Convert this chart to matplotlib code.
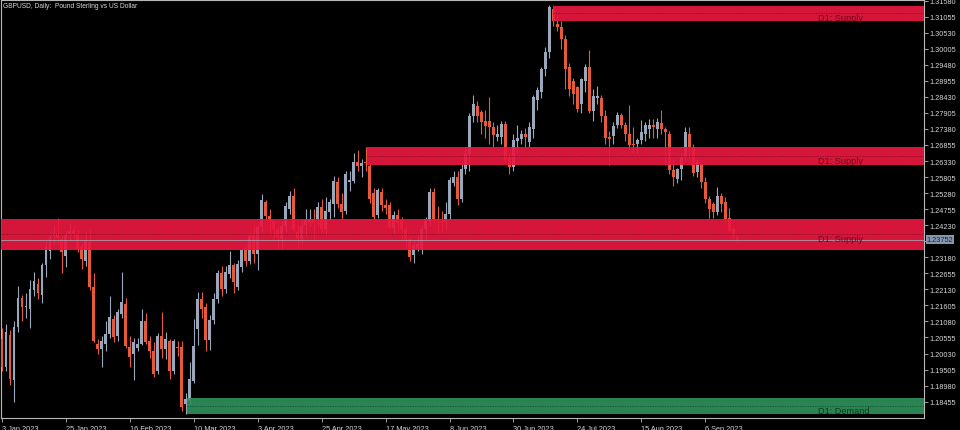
import matplotlib.pyplot as plt
import matplotlib.transforms as mtransforms
import numpy as np

plt.rcParams['font.family'] = ['Liberation Sans', 'DejaVu Sans']

# GBPUSD daily candles, one entry per bar starting 3 Jan 2023
opens = [
    1.2050, 1.1960, 1.2065, 1.1915, 1.2090, 1.2185, 1.2155, 1.2150, 1.2212, 1.2230,
    1.2195, 1.2293, 1.2339, 1.2388, 1.2395, 1.2378, 1.2323, 1.2395, 1.2405, 1.2395,
    1.2355, 1.2306, 1.2368, 1.2221, 1.2035, 1.2018, 1.2035, 1.2068, 1.2117, 1.2061,
    1.2133, 1.2165, 1.2025, 1.2000, 1.2020, 1.2035, 1.2111, 1.2045, 1.2012, 1.1947,
    1.2061, 1.2018, 1.2045, 1.1947, 1.2025, 1.2025, 1.1839, 1.1849, 1.1914, 1.2084,
    1.2180, 1.2156, 1.2046, 1.2112, 1.2182, 1.2265, 1.2215, 1.2264, 1.2293, 1.2221,
    1.2286, 1.2345, 1.2306, 1.2395, 1.2329, 1.2418, 1.2499, 1.2454, 1.2437, 1.2411,
    1.2378, 1.2421, 1.2477, 1.2519, 1.2401, 1.2378, 1.2425, 1.2434, 1.2444, 1.2444,
    1.2483, 1.2411, 1.2467, 1.2493, 1.2565, 1.2493, 1.2470, 1.2565, 1.2568, 1.2630,
    1.2617, 1.2630, 1.2617, 1.2530, 1.2457, 1.2532, 1.2490, 1.2490, 1.2415, 1.2457,
    1.2440, 1.2411, 1.2378, 1.2326, 1.2345, 1.2345, 1.2411, 1.2437, 1.2532, 1.2444,
    1.2437, 1.2434, 1.2460, 1.2560, 1.2581, 1.2509, 1.2607, 1.2657, 1.2781, 1.2814,
    1.2794, 1.2764, 1.2765, 1.2744, 1.2712, 1.2712, 1.2754, 1.2646, 1.2614, 1.2700,
    1.2705, 1.2720, 1.2695, 1.2737, 1.2833, 1.2859, 1.2934, 1.2990, 1.3130, 1.3082,
    1.3072, 1.3033, 1.2941, 1.2895, 1.2876, 1.2820, 1.2895, 1.2941, 1.2797, 1.2840,
    1.2840, 1.2781, 1.2712, 1.2715, 1.2751, 1.2784, 1.2751, 1.2721, 1.2690, 1.2690,
    1.2702, 1.2721, 1.2738, 1.2750, 1.2738, 1.2758, 1.2738, 1.2721, 1.2603, 1.2574,
    1.2607, 1.2646, 1.2721, 1.2680, 1.2597, 1.2623, 1.2564, 1.2509, 1.2493, 1.2467,
    1.2519, 1.2499, 1.2445, 1.2410, 1.2385,
]
highs = [
    1.2085, 1.2100, 1.2080, 1.2110, 1.2225, 1.2195, 1.2200, 1.2245, 1.2270, 1.2250,
    1.2300, 1.2370, 1.2400, 1.2420, 1.2447, 1.2390, 1.2405, 1.2430, 1.2420, 1.2410,
    1.2360, 1.2400, 1.2410, 1.2265, 1.2050, 1.2060, 1.2110, 1.2190, 1.2130, 1.2150,
    1.2270, 1.2185, 1.2060, 1.2055, 1.2055, 1.2150, 1.2135, 1.2060, 1.2040, 1.2070,
    1.2140, 1.2075, 1.2050, 1.2050, 1.2045, 1.2045, 1.1875, 1.1975, 1.2115, 1.2205,
    1.2205, 1.2170, 1.2130, 1.2200, 1.2275, 1.2290, 1.2290, 1.2340, 1.2300, 1.2310,
    1.2345, 1.2360, 1.2400, 1.2420, 1.2425, 1.2525, 1.2505, 1.2475, 1.2440, 1.2420,
    1.2440, 1.2500, 1.2535, 1.2545, 1.2425, 1.2440, 1.2475, 1.2475, 1.2475, 1.2500,
    1.2510, 1.2515, 1.2510, 1.2585, 1.2580, 1.2530, 1.2600, 1.2600, 1.2660, 1.2668,
    1.2640, 1.2678, 1.2630, 1.2545, 1.2545, 1.2545, 1.2510, 1.2500, 1.2470, 1.2475,
    1.2450, 1.2420, 1.2385, 1.2370, 1.2390, 1.2425, 1.2450, 1.2545, 1.2545, 1.2485,
    1.2470, 1.2500, 1.2580, 1.2600, 1.2600, 1.2625, 1.2680, 1.2790, 1.2848, 1.2830,
    1.2800, 1.2800, 1.2842, 1.2760, 1.2750, 1.2765, 1.2765, 1.2660, 1.2720, 1.2750,
    1.2735, 1.2740, 1.2760, 1.2850, 1.2875, 1.2940, 1.3005, 1.3143, 1.3143, 1.3110,
    1.3090, 1.3045, 1.2955, 1.2905, 1.2880, 1.2905, 1.2950, 1.2996, 1.2870, 1.2880,
    1.2850, 1.2800, 1.2730, 1.2760, 1.2795, 1.2790, 1.2760, 1.2818, 1.2745, 1.2710,
    1.2768, 1.2760, 1.2770, 1.2770, 1.2775, 1.2800, 1.2745, 1.2730, 1.2640, 1.2610,
    1.2660, 1.2745, 1.2745, 1.2690, 1.2640, 1.2630, 1.2580, 1.2520, 1.2500, 1.2548,
    1.2530, 1.2515, 1.2480, 1.2420, 1.2395,
]
lows = [
    1.1945, 1.1945, 1.1900, 1.1845, 1.2075, 1.2110, 1.2120, 1.2085, 1.2190, 1.2180,
    1.2170, 1.2255, 1.2313, 1.2360, 1.2360, 1.2265, 1.2285, 1.2370, 1.2380, 1.2335,
    1.2280, 1.2290, 1.2210, 1.2040, 1.2000, 1.1960, 1.2010, 1.2055, 1.2040, 1.2045,
    1.2120, 1.2020, 1.1960, 1.1915, 1.2010, 1.2030, 1.2035, 1.1990, 1.1925, 1.1935,
    1.1990, 1.1985, 1.1920, 1.1935, 1.1995, 1.1815, 1.1805, 1.1835, 1.1905, 1.2030,
    1.2120, 1.2010, 1.2015, 1.2100, 1.2170, 1.2190, 1.2200, 1.2250, 1.2200, 1.2210,
    1.2270, 1.2290, 1.2295, 1.2300, 1.2275, 1.2400, 1.2440, 1.2390, 1.2380, 1.2345,
    1.2345, 1.2400, 1.2460, 1.2400, 1.2345, 1.2365, 1.2390, 1.2420, 1.2375, 1.2420,
    1.2400, 1.2390, 1.2440, 1.2450, 1.2480, 1.2440, 1.2460, 1.2535, 1.2560, 1.2600,
    1.2580, 1.2600, 1.2495, 1.2440, 1.2445, 1.2470, 1.2460, 1.2410, 1.2395, 1.2410,
    1.2375, 1.2350, 1.2305, 1.2300, 1.2340, 1.2330, 1.2370, 1.2420, 1.2430, 1.2395,
    1.2400, 1.2410, 1.2440, 1.2550, 1.2490, 1.2500, 1.2590, 1.2600, 1.2760, 1.2760,
    1.2720, 1.2710, 1.2690, 1.2680, 1.2700, 1.2690, 1.2630, 1.2590, 1.2600, 1.2660,
    1.2690, 1.2680, 1.2680, 1.2710, 1.2800, 1.2840, 1.2910, 1.2970, 1.3075, 1.3060,
    1.3000, 1.2870, 1.2845, 1.2820, 1.2795, 1.2790, 1.2860, 1.2790, 1.2765, 1.2820,
    1.2760, 1.2690, 1.2620, 1.2690, 1.2740, 1.2740, 1.2700, 1.2675, 1.2660, 1.2660,
    1.2690, 1.2700, 1.2710, 1.2710, 1.2710, 1.2720, 1.2620, 1.2590, 1.2550, 1.2560,
    1.2570, 1.2630, 1.2640, 1.2585, 1.2580, 1.2545, 1.2495, 1.2445, 1.2445, 1.2455,
    1.2465, 1.2430, 1.2400, 1.2375, 1.2365,
]
closes = [
    1.1960, 1.2075, 1.1920, 1.2090, 1.2185, 1.2155, 1.2160, 1.2215, 1.2240, 1.2200,
    1.2293, 1.2352, 1.2385, 1.2398, 1.2380, 1.2335, 1.2395, 1.2405, 1.2395, 1.2345,
    1.2313, 1.2372, 1.2221, 1.2045, 1.2018, 1.2045, 1.2068, 1.2124, 1.2058, 1.2140,
    1.2172, 1.2028, 1.1993, 1.2042, 1.2035, 1.2111, 1.2042, 1.2012, 1.1937, 1.2061,
    1.2018, 1.2051, 1.1947, 1.2045, 1.2020, 1.1829, 1.1855, 1.1920, 1.2028, 1.2180,
    1.2150, 1.2046, 1.2112, 1.2182, 1.2265, 1.2215, 1.2270, 1.2293, 1.2237, 1.2296,
    1.2342, 1.2306, 1.2388, 1.2329, 1.2418, 1.2505, 1.2454, 1.2437, 1.2411, 1.2385,
    1.2421, 1.2486, 1.2519, 1.2411, 1.2378, 1.2421, 1.2440, 1.2444, 1.2435, 1.2483,
    1.2411, 1.2470, 1.2499, 1.2568, 1.2493, 1.2467, 1.2591, 1.2570, 1.2630, 1.2617,
    1.2625, 1.2625, 1.2509, 1.2450, 1.2539, 1.2490, 1.2480, 1.2415, 1.2457, 1.2434,
    1.2411, 1.2378, 1.2319, 1.2358, 1.2362, 1.2411, 1.2444, 1.2532, 1.2444, 1.2437,
    1.2434, 1.2460, 1.2570, 1.2581, 1.2509, 1.2607, 1.2657, 1.2781, 1.2820, 1.2781,
    1.2761, 1.2748, 1.2745, 1.2718, 1.2720, 1.2754, 1.2636, 1.2614, 1.2702, 1.2708,
    1.2720, 1.2712, 1.2744, 1.2842, 1.2865, 1.2934, 1.2990, 1.3137, 1.3090, 1.3072,
    1.3033, 1.2935, 1.2869, 1.2853, 1.2804, 1.2902, 1.2941, 1.2797, 1.2846, 1.2846,
    1.2781, 1.2709, 1.2705, 1.2748, 1.2784, 1.2751, 1.2721, 1.2685, 1.2685, 1.2702,
    1.2728, 1.2751, 1.2751, 1.2745, 1.2761, 1.2738, 1.2728, 1.2603, 1.2580, 1.2607,
    1.2646, 1.2728, 1.2680, 1.2594, 1.2630, 1.2564, 1.2509, 1.2476, 1.2467, 1.2520,
    1.2493, 1.2444, 1.2405, 1.2385, 1.2375,
]
last_price = 1.23752

date_labels = ['3 Jan 2023', '25 Jan 2023', '16 Feb 2023', '10 Mar 2023', '3 Apr 2023',
               '25 Apr 2023', '17 May 2023', '8 Jun 2023', '30 Jun 2023', '24 Jul 2023',
               '15 Aug 2023', '6 Sep 2023']
bars_per_label = 16

# supply / demand zones: first bar, low, high
zone_start = [138, 91.4, -1, 46.3]
zone_low = [1.3092, 1.2620, 1.2342, 1.1805]
zone_high = [1.3141, 1.2679, 1.2444, 1.1858]
zone_name = ['D1: Supply', 'D1: Supply', 'D1: Supply', 'D1: Demand']

price_ticks = np.linspace(1.18455, 1.31580, 26)

BULL = '#9aa6ba'
BEAR = '#e65a3c'

fig = plt.figure(figsize=(9.6, 4.31), dpi=100, facecolor='black')
ax = fig.add_axes([1 / 960, 12 / 431, 923 / 960, 418 / 431], facecolor='black')

o = np.array(opens)
h = np.array(highs)
l = np.array(lows)
c = np.array(closes)
x = np.arange(len(o))
cols = np.where(c >= o, BULL, BEAR)

ax.vlines(x, l, h, colors=cols, lw=0.8, zorder=2)
body = np.maximum(np.abs(c - o), 0.00006)
ax.bar(x, body, bottom=np.minimum(o, c), width=0.72, color=cols, lw=0, zorder=3)

x_right = 230.75
for start, lo, hi, name in zip(zone_start, zone_low, zone_high, zone_name):
    fc = '#2e8f5a' if name.endswith('Demand') else '#e8173f'
    lc = '#12502e' if name.endswith('Demand') else '#8a0a24'
    tc = '#0c3a1e' if name.endswith('Demand') else '#70091d'
    ax.fill_between([start, x_right], lo, hi, color=fc, alpha=0.92, lw=0, zorder=4)
    mid = (lo + hi) / 2
    ax.plot([start, x_right], [mid, mid], ls=(0, (1.5, 1.5)), color=lc, lw=0.6, zorder=5)
    ax.text(204.3, mid, name, fontsize=6.6, color=tc, ha='left', va='top', zorder=6)

ax.axhline(last_price, color='#a8b0bc', lw=0.6, alpha=0.85, zorder=5)

ax.set_xlim(-0.25, x_right)
ax.set_ylim(1.1792, 1.3160)

# the tick hidden behind the last-price box gets no label
ax.yaxis.tick_right()
ax.set_yticks(price_ticks)
ax.set_yticklabels(['' if abs(v - last_price) < 0.002 else f'{v:.5f}' for v in price_ticks])
ax.set_xticks(np.arange(len(date_labels)) * bars_per_label)
ax.set_xticklabels(date_labels, ha='left')
ax.tick_params(axis='both', colors='#b8b8b8', labelcolor='#d4d4d4', labelsize=5.3,
               length=3, width=0.6, direction='out', pad=1)
ax.tick_params(axis='x', pad=2)
for sp in ax.spines.values():
    sp.set_color('#b8b8b8')
    sp.set_linewidth(0.8)

trans = mtransforms.blended_transform_factory(ax.transAxes, ax.transData)
ax.text(1.003, last_price, '1.23752', transform=trans, fontsize=5.3, color='#1c2433',
        ha='left', va='center', zorder=10, clip_on=False,
        bbox=dict(boxstyle='square,pad=0.15', fc='#8696ad', ec='none'))

fig.text(3 / 960, 1 - 6 / 431, 'GBPUSD, Daily:  Pound Sterling vs US Dollar',
         fontsize=4.8, color='#d8d8d8', va='center', ha='left')

fig.savefig('out.png', dpi=100, facecolor='black')
